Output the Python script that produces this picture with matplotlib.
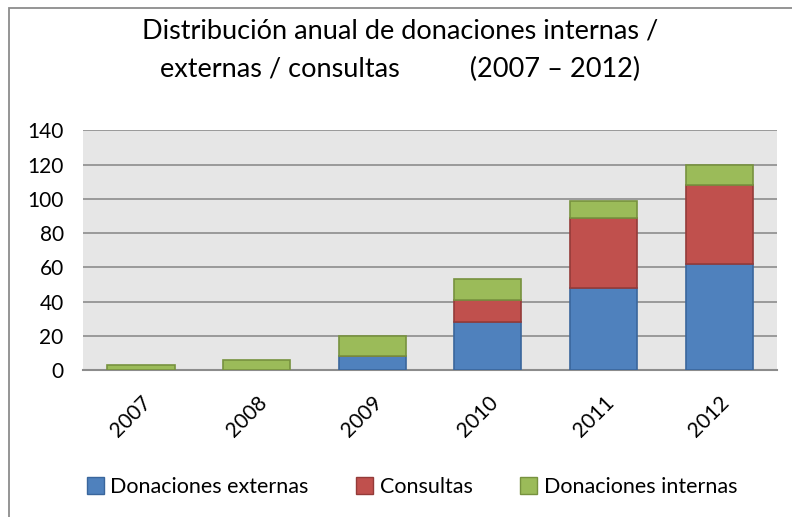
import numpy as np
import matplotlib.pyplot as plt
from matplotlib.patches import Rectangle

plt.rcParams['font.family'] = ['Lato', 'DejaVu Sans']

# Datos
years = ['2007', '2008', '2009', '2010', '2011', '2012']
externas = [0, 0, 8, 28, 48, 62]
consultas = [0, 0, 0, 13, 41, 46]
internas = [3, 6, 12, 12, 10, 12]

fig = plt.figure(figsize=(7.92, 5.17), dpi=100)
ax = fig.add_axes([0.105, 0.284, 0.876, 0.464])

x = np.arange(len(years))
w = 0.58
b1 = np.array(externas)
b2 = b1 + np.array(consultas)
ax.bar(x, externas, w, color='#4f81bd', edgecolor='#3a669c', linewidth=1.2, zorder=3)
ax.bar(x, consultas, w, bottom=b1, color='#c0504d', edgecolor='#943b39', linewidth=1.2, zorder=3)
ax.bar(x, internas, w, bottom=b2, color='#9bbb59', edgecolor='#77923f', linewidth=1.2, zorder=3)

ax.set_facecolor('#e6e6e6')
ax.set_xlim(-0.5, len(years) - 0.5)
ax.set_ylim(0, 140)
ax.set_yticks(range(0, 141, 20))
ax.yaxis.grid(True, color='#8c8c8c', linewidth=1.2, zorder=0)
ax.tick_params(axis='y', length=0, labelsize=15, pad=14)
ax.set_xticks(x)
ax.set_xticklabels(years, rotation=45, ha='right', rotation_mode='anchor', fontsize=15)
ax.tick_params(axis='x', length=0, pad=16)
for s in ['top', 'right', 'left']:
    ax.spines[s].set_visible(False)
ax.spines['bottom'].set_color('#8c8c8c')
ax.spines['bottom'].set_linewidth(1.5)

fig.text(0.505, 0.94, 'Distribución anual de donaciones internas /', ha='center', va='center', fontsize=19.5)
fig.text(0.505, 0.865, 'externas / consultas          (2007 \u2013 2012)', ha='center', va='center', fontsize=19.5)

# marco exterior
fig.patches.append(Rectangle((9 / 792, -0.1), 1.2, 1 - 8 / 517 + 0.1, transform=fig.transFigure,
                             fill=False, edgecolor='#8c8c8c', linewidth=1.3))

handles = [Rectangle((0, 0), 1, 1, facecolor=c, edgecolor=e) for c, e in
           [('#4f81bd', '#3a669c'), ('#c0504d', '#943b39'), ('#9bbb59', '#77923f')]]
fig.legend(handles, ['Donaciones externas', 'Consultas', 'Donaciones internas'],
           loc='center', bbox_to_anchor=(0.52, 0.058), ncol=3, frameon=False,
           fontsize=15.5, handlelength=0.8, handleheight=0.8, handletextpad=0.3, columnspacing=2.2)

fig.savefig('out.png', dpi=100)
